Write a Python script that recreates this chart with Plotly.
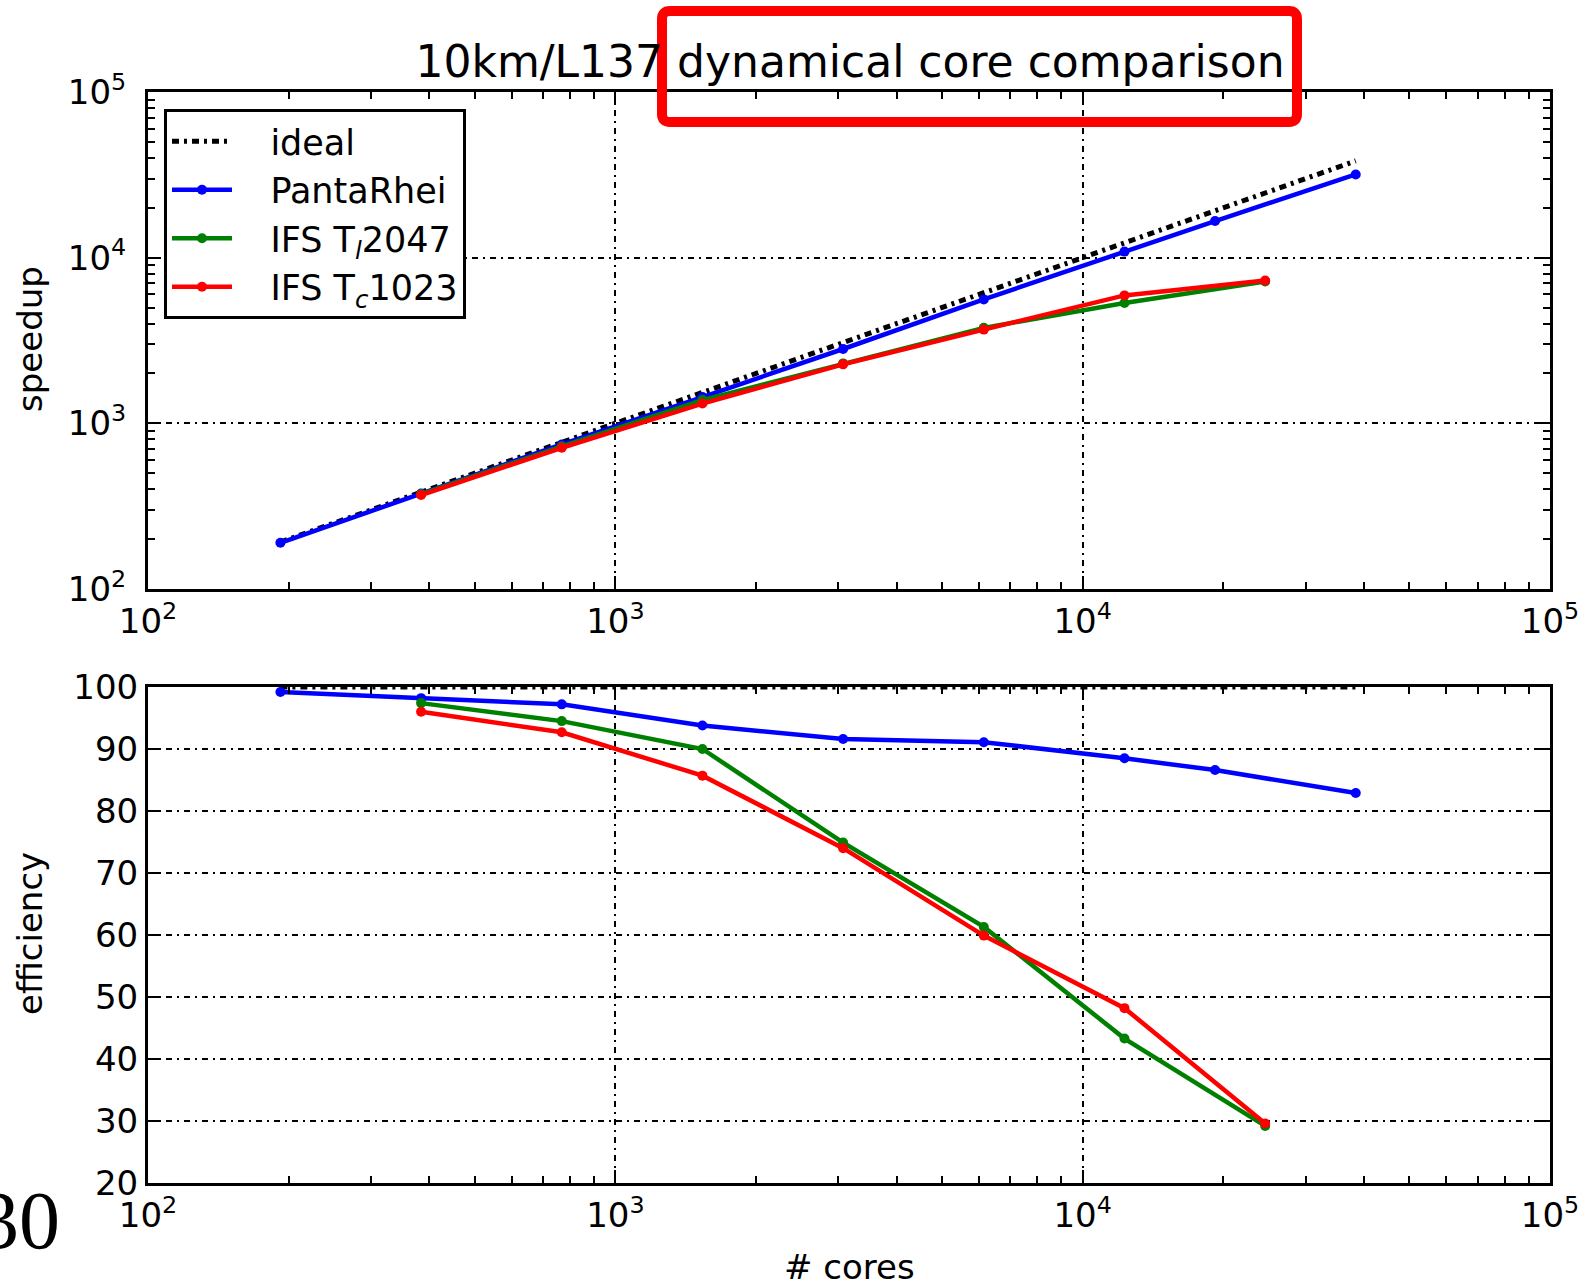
import plotly.graph_objects as go

# ---------------- data ----------------
ideal_cores = [192, 384, 768, 1536, 3072, 6144, 12288, 19200, 38400]
ideal_speedup = [192, 384, 768, 1536, 3072, 6144, 12288, 19200, 38400]
ideal_eff = [100, 100, 100, 100, 100, 100, 100, 100, 100]

panta_cores = [192, 384, 768, 1536, 3072, 6144, 12288, 19200, 38400]
panta_speedup = [190, 377, 746, 1440, 2810, 5600, 10880, 16630, 31800]
panta_eff = [99.2, 98.2, 97.2, 93.8, 91.6, 91.1, 88.5, 86.6, 82.9]

tl_cores = [384, 768, 1536, 3072, 6144, 12288, 24576]
tl_speedup = [374, 726, 1382, 2300, 3770, 5320, 7180]
tl_eff = [97.4, 94.5, 90.0, 74.9, 61.3, 43.3, 29.2]

tc_cores = [384, 768, 1536, 3072, 6144, 12288, 24576]
tc_speedup = [369, 712, 1316, 2270, 3680, 5920, 7270]
tc_eff = [96.0, 92.7, 85.7, 74.0, 59.9, 48.2, 29.6]

log_tickvals = [100, 1000, 10000, 100000]
log_ticktext = ["10<sup>2</sup>", "10<sup>3</sup>", "10<sup>4</sup>", "10<sup>5</sup>"]
eff_tickvals = [20, 30, 40, 50, 60, 70, 80, 90, 100]
minor_vals = [m * 10 ** k for k in range(2, 5) for m in range(2, 10)]

title_text = "10km/L137 dynamical core comparison"
pad = "\u00a0\u00a0\u00a0"
names = [pad + "ideal", pad + "PantaRhei",
         pad + "IFS T<sub><i>l</i></sub>2047", pad + "IFS T<sub><i>c</i></sub>1023"]

# ---------------- figure ----------------
W, H = 1578, 1286
L, R, T, B = 148, 28, 92, 103
plot_h = H - T - B


def py(px):
    return (H - B - px) / plot_h


def pxx(px):
    return (px - L) / (W - L - R)


fig = go.Figure()

line_w = 4.5
mk = dict(size=10, symbol="circle")
ideal_dash = "7px,5px,3px,5px"

# top panel
fig.add_trace(go.Scatter(x=ideal_cores, y=ideal_speedup, mode="lines", name=names[0],
                         line=dict(color="black", width=5, dash=ideal_dash),
                         xaxis="x", yaxis="y"))
fig.add_trace(go.Scatter(x=panta_cores, y=panta_speedup, mode="lines+markers", name=names[1],
                         line=dict(color="#0000ff", width=line_w), marker=dict(color="#0000ff", **mk),
                         xaxis="x", yaxis="y"))
fig.add_trace(go.Scatter(x=tl_cores, y=tl_speedup, mode="lines+markers", name=names[2],
                         line=dict(color="#008000", width=line_w), marker=dict(color="#008000", **mk),
                         xaxis="x", yaxis="y"))
fig.add_trace(go.Scatter(x=tc_cores, y=tc_speedup, mode="lines+markers", name=names[3],
                         line=dict(color="#ff0000", width=line_w), marker=dict(color="#ff0000", **mk),
                         xaxis="x", yaxis="y"))

# bottom panel
fig.add_trace(go.Scatter(x=ideal_cores, y=ideal_eff, mode="lines", showlegend=False,
                         line=dict(color="black", width=5, dash=ideal_dash),
                         xaxis="x2", yaxis="y2", cliponaxis=False))
fig.add_trace(go.Scatter(x=panta_cores, y=panta_eff, mode="lines+markers", showlegend=False,
                         line=dict(color="#0000ff", width=line_w), marker=dict(color="#0000ff", **mk),
                         xaxis="x2", yaxis="y2"))
fig.add_trace(go.Scatter(x=tl_cores, y=tl_eff, mode="lines+markers", showlegend=False,
                         line=dict(color="#008000", width=line_w), marker=dict(color="#008000", **mk),
                         xaxis="x2", yaxis="y2"))
fig.add_trace(go.Scatter(x=tc_cores, y=tc_eff, mode="lines+markers", showlegend=False,
                         line=dict(color="#ff0000", width=line_w), marker=dict(color="#ff0000", **mk),
                         xaxis="x2", yaxis="y2"))

font_family = "DejaVu Sans"
tick_font = dict(family=font_family, size=34, color="black")
grid_dash = "6px,5px,2px,5px"


def log_axis(anchor):
    return dict(
        type="log", range=[2, 5],
        tickvals=log_tickvals, ticktext=log_ticktext,
        ticks="inside", ticklen=13, tickwidth=2, tickcolor="black",
        showline=True, linecolor="black", linewidth=3, mirror="allticks",
        showgrid=True, gridcolor="black", gridwidth=2, griddash=grid_dash,
        zeroline=False, tickfont=tick_font, anchor=anchor,
        ticklabeloverflow="allow", automargin=False,
        minor=dict(tickvals=minor_vals, ticks="inside", ticklen=7, tickwidth=2,
                   tickcolor="black", showgrid=False),
    )


xa1 = log_axis("y")
xa2 = log_axis("y2")
ya1 = log_axis("x")
ya1["domain"] = [py(589), 1.0]
ya1["ticklabelstandoff"] = 12
ya2 = dict(
    range=[20, 100], tickvals=eff_tickvals,
    ticks="inside", ticklen=13, tickwidth=2, tickcolor="black",
    showline=True, linecolor="black", linewidth=3, mirror="allticks",
    showgrid=True, gridcolor="black", gridwidth=2, griddash=grid_dash,
    zeroline=False, tickfont=tick_font, anchor="x2", automargin=False,
    domain=[0.0, py(687)],
)

# rounded red highlight box (pixel positions converted to paper coords)
bx0, bx1, by0, by1, rr = 662, 1297, 11, 122, 8
box_path = (
    f"M {pxx(bx0 + rr)},{py(by0)} L {pxx(bx1 - rr)},{py(by0)} "
    f"Q {pxx(bx1)},{py(by0)} {pxx(bx1)},{py(by0 + rr)} "
    f"L {pxx(bx1)},{py(by1 - rr)} Q {pxx(bx1)},{py(by1)} {pxx(bx1 - rr)},{py(by1)} "
    f"L {pxx(bx0 + rr)},{py(by1)} Q {pxx(bx0)},{py(by1)} {pxx(bx0)},{py(by1 - rr)} "
    f"L {pxx(bx0)},{py(by0 + rr)} Q {pxx(bx0)},{py(by0)} {pxx(bx0 + rr)},{py(by0)} Z"
)

fig.update_layout(
    width=W, height=H,
    margin=dict(l=L, r=R, t=T, b=B, autoexpand=False),
    paper_bgcolor="white", plot_bgcolor="white",
    font=dict(family=font_family, color="black"),
    title=dict(text=title_text, x=pxx(850), xref="paper", xanchor="center",
               y=1 - 62 / H, yanchor="middle",
               font=dict(family=font_family, size=44, color="black")),
    xaxis=xa1, yaxis=ya1, xaxis2=xa2, yaxis2=ya2,
    showlegend=True,
    legend=dict(x=pxx(164), y=py(109), xanchor="left", yanchor="top",
                bgcolor="white", bordercolor="black", borderwidth=3,
                font=dict(family=font_family, size=35, color="black"),
                itemwidth=60, tracegroupgap=0),
    shapes=[
        dict(type="path", xref="paper", yref="paper", path=box_path,
             line=dict(color="#ff0000", width=10), fillcolor="rgba(0,0,0,0)"),
    ],
    annotations=[
        dict(text="speedup", xref="paper", yref="paper", x=pxx(30), y=py(339),
             textangle=-90, showarrow=False, xanchor="center", yanchor="middle",
             font=dict(family=font_family, size=34, color="black")),
        dict(text="efficiency", xref="paper", yref="paper", x=pxx(30), y=py(934),
             textangle=-90, showarrow=False, xanchor="center", yanchor="middle",
             font=dict(family=font_family, size=34, color="black")),
        dict(text="# cores", xref="paper", yref="paper", x=pxx(850), y=py(1267),
             showarrow=False, xanchor="center", yanchor="middle",
             font=dict(family=font_family, size=34, color="black")),
        dict(text="30", xref="paper", yref="paper", x=pxx(62), y=py(1220),
             showarrow=False, xanchor="right", yanchor="middle",
             font=dict(family="Liberation Serif", size=82, color="black")),
    ],
)

fig.write_html("out.html")
